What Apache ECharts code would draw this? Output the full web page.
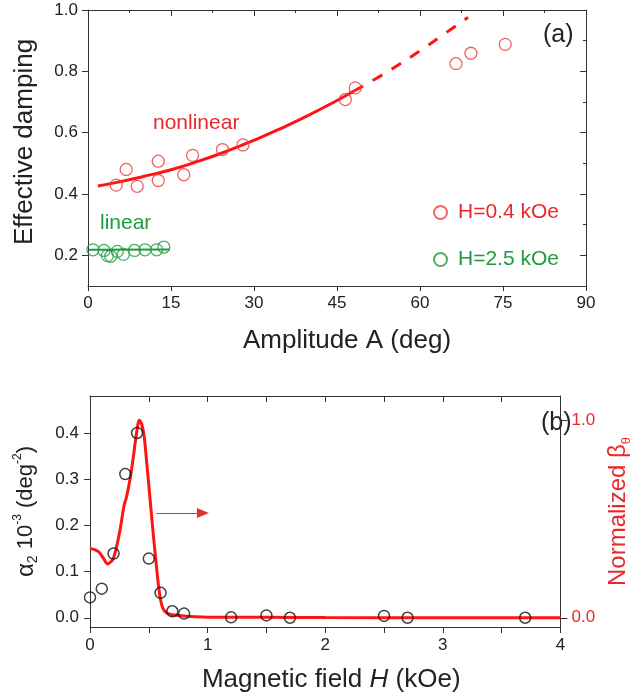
<!DOCTYPE html>
<html>
<head>
<meta charset="utf-8">
<script src="https://cdn.jsdelivr.net/npm/echarts@6/dist/echarts.min.js"></script>
<style>
html,body{margin:0;padding:0;background:#fff;}
#c{width:641px;height:698px;}
</style>
</head>
<body>
<div id="c"></div>
<script>
// ---- Panel (a) data ----
var ampRed = [5.1, 6.9, 8.9, 12.7, 12.7, 17.3, 18.9, 24.3, 28.0, 46.5, 48.3, 66.5, 69.2, 75.4];
var dampRed = [0.429, 0.480, 0.425, 0.507, 0.444, 0.463, 0.526, 0.545, 0.560, 0.708, 0.746, 0.825, 0.859, 0.888];
var ampGreen = [0.9, 2.9, 3.5, 4.1, 5.3, 6.4, 8.4, 10.3, 12.4, 13.7];
var dampGreen = [0.218, 0.216, 0.199, 0.197, 0.213, 0.203, 0.216, 0.218, 0.218, 0.227];
var fitSolidA = [1.8, 5, 10, 15, 20, 25, 30, 35, 40, 45, 48];
var fitSolidY = [0.426, 0.437, 0.457, 0.479, 0.507, 0.539, 0.575, 0.615, 0.658, 0.705, 0.735];
var fitDashA = [48, 52, 56, 60, 64, 68.7];
var fitDashY = [0.735, 0.776, 0.820, 0.867, 0.917, 0.976];
var linFitA = [0.2, 14.8];
var linFitY = [0.218, 0.219];
var xTicksA = [0, 15, 30, 45, 60, 75, 90];
var yTicksA = [0.2, 0.4, 0.6, 0.8, 1.0];

// ---- Panel (b) data ----
var fieldH = [0, 0.1, 0.2, 0.3, 0.4, 0.5, 0.6, 0.7, 0.8, 1.2, 1.5, 1.7, 2.5, 2.7, 3.7];
var alpha2 = [0.044, 0.063, 0.139, 0.311, 0.400, 0.128, 0.054, 0.014, 0.009, 0.001, 0.005, 0.000, 0.004, 0.000, 0.000];
var betaH = [0, 0.04, 0.08, 0.12, 0.15, 0.18, 0.2, 0.23, 0.26, 0.29, 0.31, 0.34, 0.37, 0.39, 0.42, 0.44, 0.46, 0.48, 0.50, 0.52, 0.54, 0.56, 0.58, 0.60, 0.62, 0.65, 0.70, 0.80, 0.90, 1.0, 1.5, 2.0, 3.0, 4.0];
var betaN = [0.35, 0.345, 0.33, 0.295, 0.272, 0.285, 0.303, 0.37, 0.46, 0.57, 0.61, 0.70, 0.82, 0.91, 1.0, 0.98, 0.92, 0.80, 0.67, 0.54, 0.41, 0.29, 0.175, 0.09, 0.048, 0.025, 0.015, 0.009, 0.005, 0.003, 0.002, 0.001, 0.0, 0.0];
var yTicksBLeft = [0, 0.1, 0.2, 0.3, 0.4];
var yTicksBRight = [0, 1];
var arrowH = [0.565, 0.96];
var arrowY = [0.2265, 0.2265];

function zip(a, b) { return a.map(function (v, i) { return [v, b[i]]; }); }

var FONT = "'Liberation Sans', Arial, sans-serif";
var RED = '#ff1414';
var RED_T = '#e8282b';
var RED_C = '#f03a3a';
var GREEN = '#1f9a3f';
var AX = '#333';
var LBL = '#222';

var chart = echarts.init(document.getElementById('c'), null, {renderer: 'canvas'});

function baseAxis(extra) {
  var o = {
    axisLine: {show: true, onZero: false, lineStyle: {color: AX, width: 1}},
    axisTick: {show: true, lineStyle: {color: AX, width: 1}},
    splitLine: {show: false},
    axisLabel: {color: LBL, fontFamily: FONT, fontSize: 17},
    nameTextStyle: {fontFamily: FONT, color: LBL}
  };
  for (var k in extra) {
    if (typeof extra[k] === 'object' && !Array.isArray(extra[k]) && o[k]) {
      for (var j in extra[k]) o[k][j] = extra[k][j];
    } else o[k] = extra[k];
  }
  return o;
}

var option = {
  animation: false,
  backgroundColor: '#fff',
  textStyle: {fontFamily: FONT},
  grid: [
    {left: 88, top: 10, width: 498, height: 276},
    {left: 90, top: 396, width: 494, height: 231}
  ],
  legend: {
    orient: 'vertical',
    left: 428,
    top: 197,
    itemWidth: 25,
    itemHeight: 13,
    itemGap: 26,
    textStyle: {fontFamily: FONT, fontSize: 21},
    data: [
      {name: 'H=0.4 kOe', textStyle: {color: RED_T}},
      {name: 'H=2.5 kOe', textStyle: {color: GREEN}}
    ]
  },
  xAxis: [
    baseAxis({
      gridIndex: 0, type: 'value', position: 'bottom', min: 0, max: 90, interval: 15,
      axisTick: {show: true, length: 5, inside: false, lineStyle: {color: AX}},
      axisLabel: {color: LBL, fontFamily: FONT, fontSize: 17, margin: 9},
      name: 'Amplitude A (deg)', nameLocation: 'middle', nameGap: 42,
      nameTextStyle: {fontFamily: FONT, fontSize: 26, color: LBL, padding: [0, 0, 0, 20]}
    }),
    baseAxis({
      gridIndex: 0, type: 'value', position: 'top', min: 0, max: 90, interval: 15,
      axisTick: {show: true, length: 6, inside: true, lineStyle: {color: AX}},
      minorTick: {show: true, splitNumber: 2, length: 3, lineStyle: {color: AX}},
      axisLabel: {show: false}
    }),
    baseAxis({
      gridIndex: 1, type: 'value', position: 'bottom', min: 0, max: 4, interval: 0.5,
      axisTick: {show: true, length: 6, inside: false, lineStyle: {color: AX}},
      axisLabel: {color: LBL, fontFamily: FONT, fontSize: 17, margin: 10,
        formatter: function (v) { return Math.abs(v - Math.round(v)) < 1e-6 ? String(Math.round(v)) : ''; }},
      name: '{n|Magnetic field }{i|H}{n| (kOe)}', nameLocation: 'middle', nameGap: 40,
      nameTextStyle: {fontFamily: FONT, fontSize: 26, color: LBL, padding: [0, 0, 0, 12],
        rich: {n: {fontFamily: FONT, fontSize: 26, color: LBL}, i: {fontFamily: FONT, fontSize: 26, color: LBL, fontStyle: 'italic'}}}
    }),
    baseAxis({
      gridIndex: 1, type: 'value', position: 'top', min: 0, max: 4, interval: 0.5,
      axisTick: {show: true, length: 6, inside: true, lineStyle: {color: AX}},
      axisLabel: {show: false}
    })
  ],
  yAxis: [
    baseAxis({
      gridIndex: 0, type: 'value', position: 'left', min: 0.1, max: 1.0,
      axisTick: {show: true, length: 6, inside: false, customValues: yTicksA, lineStyle: {color: AX}},
      axisLabel: {color: LBL, fontFamily: FONT, fontSize: 17, margin: 10, customValues: yTicksA,
        formatter: function (v) { return v.toFixed(1); }},
      name: 'Effective damping', nameLocation: 'middle', nameRotate: 90, nameGap: 50,
      nameTextStyle: {fontFamily: FONT, fontSize: 26, color: LBL, padding: [0, 0, 0, 12]}
    }),
    baseAxis({
      gridIndex: 0, type: 'value', position: 'right', min: 0.1, max: 1.0,
      axisTick: {show: true, length: 6, inside: true, customValues: yTicksA, lineStyle: {color: AX}},
      axisLabel: {show: false, customValues: yTicksA}
    }),
    baseAxis({
      gridIndex: 0, type: 'value', position: 'right', min: 0.1, max: 1.0, interval: 0.1,
      axisLine: {show: false, onZero: false},
      axisTick: {show: true, length: 3, inside: true, lineStyle: {color: AX}},
      axisLabel: {show: false}
    }),
    baseAxis({
      gridIndex: 1, type: 'value', position: 'left', min: -0.02, max: 0.48,
      axisTick: {show: true, length: 6, inside: false, customValues: yTicksBLeft, lineStyle: {color: AX}},
      axisLabel: {color: LBL, fontFamily: FONT, fontSize: 17, margin: 11, customValues: yTicksBLeft,
        formatter: function (v) { return v.toFixed(1); }},
      name: '{a|α}{sub|2}{n| 10}{sup|-3}{n| (deg}{sup|-2}{n|)}', nameLocation: 'middle', nameRotate: 90, nameGap: 50,
      nameTextStyle: {fontFamily: FONT, fontSize: 22, color: LBL,
        rich: {
          a: {fontFamily: FONT, fontSize: 24, color: LBL},
          n: {fontFamily: FONT, fontSize: 22, color: LBL},
          sub: {fontFamily: FONT, fontSize: 14, color: LBL, verticalAlign: 'bottom', lineHeight: 28},
          sup: {fontFamily: FONT, fontSize: 12, color: LBL, verticalAlign: 'top', lineHeight: 28}
        }}
    }),
    baseAxis({
      gridIndex: 1, type: 'value', position: 'right', min: -0.0468, max: 1.1228,
      axisTick: {show: true, length: 7, inside: false, customValues: yTicksBRight, lineStyle: {color: AX}},
      axisLabel: {color: RED_T, fontFamily: FONT, fontSize: 17, margin: 11, customValues: yTicksBRight,
        formatter: function (v) { return v.toFixed(1); }},
      name: '{n|Normalized }{b|β}{s|θ}', nameLocation: 'middle', nameRotate: 90, nameGap: 32,
      nameTextStyle: {fontFamily: FONT, fontSize: 24, color: RED_T,
        rich: {
          n: {fontFamily: FONT, fontSize: 24, color: RED_T},
          b: {fontFamily: FONT, fontSize: 24, color: RED_T},
          s: {fontFamily: FONT, fontSize: 13, color: RED_T, verticalAlign: 'bottom', lineHeight: 30}
        }}
    })
  ],
  series: [
    {
      name: 'nonlinear fit', type: 'line', xAxisIndex: 0, yAxisIndex: 0,
      data: zip(fitSolidA, fitSolidY), smooth: true, symbol: 'none',
      lineStyle: {color: RED, width: 3}, z: 2
    },
    {
      name: 'nonlinear extrapolation', type: 'line', xAxisIndex: 0, yAxisIndex: 0,
      data: zip(fitDashA, fitDashY), smooth: true, symbol: 'none',
      lineStyle: {color: RED, width: 3, type: [11, 11]}, z: 2
    },
    {
      name: 'linear fit', type: 'line', xAxisIndex: 0, yAxisIndex: 0,
      data: zip(linFitA, linFitY), symbol: 'none',
      lineStyle: {color: GREEN, width: 2}, z: 2
    },
    {
      name: 'H=0.4 kOe', type: 'scatter', xAxisIndex: 0, yAxisIndex: 0,
      data: zip(ampRed, dampRed), symbol: 'circle', symbolSize: 12,
      itemStyle: {color: 'rgba(255,255,255,0)', borderColor: RED_C, borderWidth: 1.3}, z: 3
    },
    {
      name: 'H=2.5 kOe', type: 'scatter', xAxisIndex: 0, yAxisIndex: 0,
      data: zip(ampGreen, dampGreen), symbol: 'circle', symbolSize: 12,
      itemStyle: {color: 'rgba(255,255,255,0)', borderColor: GREEN, borderWidth: 1.3}, z: 3
    },
    {
      name: 'beta', type: 'line', xAxisIndex: 2, yAxisIndex: 4,
      data: zip(betaH, betaN), smooth: 0.3, symbol: 'none',
      lineStyle: {color: RED, width: 3}, z: 2
    },
    {
      name: 'alpha2', type: 'scatter', xAxisIndex: 2, yAxisIndex: 3,
      data: zip(fieldH, alpha2), symbol: 'circle', symbolSize: 11,
      itemStyle: {color: 'rgba(255,255,255,0)', borderColor: '#111', borderWidth: 1.5}, z: 3,
      markLine: {
        silent: true, symbol: ['none', 'triangle'], symbolSize: [10, 12],
        label: {show: false},
        lineStyle: {color: '#e03030', width: 1.2, type: 'solid'},
        data: [[{coord: [arrowH[0], arrowY[0]]}, {coord: [arrowH[1], arrowY[1]]}]]
      }
    }
  ],
  graphic: [
    {type: 'text', left: 153, top: 113, style: {text: 'nonlinear', font: '21px ' + FONT, fill: RED_T}},
    {type: 'text', left: 100, top: 213, style: {text: 'linear', font: '21px ' + FONT, fill: GREEN}},
    {type: 'text', left: 543, top: 23, style: {text: '(a)', font: '25px ' + FONT, fill: '#222'}},
    {type: 'text', left: 541, top: 411, style: {text: '(b)', font: '25px ' + FONT, fill: '#222'}}
  ]
};
chart.setOption(option);
</script>
</body>
</html>
